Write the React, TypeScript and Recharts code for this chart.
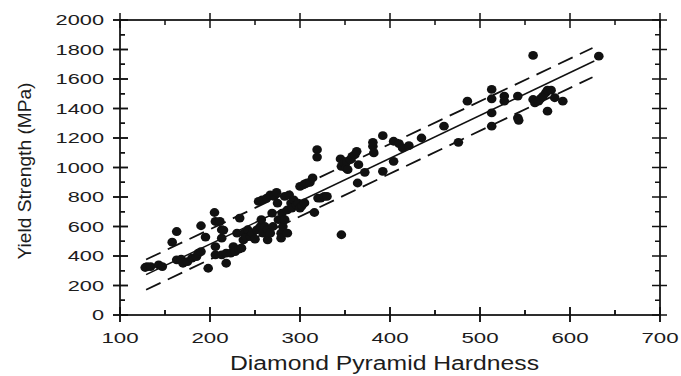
import React from 'react';
import { ScatterChart, Scatter, XAxis, YAxis } from 'recharts';

const hardness = [
  130, 128, 134, 143, 147, 158, 163, 163, 168, 170, 175, 180, 185, 187, 190, 190, 195, 198,
  205, 206, 206, 206, 211, 213, 213, 213, 215, 218, 218, 223, 226, 228, 233, 230, 232, 235,
  237, 238, 240, 242, 245, 247, 250, 252, 254, 256, 257, 258, 259, 261, 263, 264, 264, 267,
  267, 269, 270, 271, 274, 275, 276, 279, 279, 280, 281, 283, 283, 286, 286, 288, 290, 291,
  293, 296, 298, 300, 300, 302, 304, 305, 306, 308, 311, 314, 316, 319, 319, 320, 323, 327,
  330, 346, 345, 346, 349, 351, 352, 353, 356, 358, 361, 363, 365, 364, 372, 381, 381, 382,
  392, 392, 404, 404, 410, 414, 421, 435, 460, 476, 486, 513, 513, 513, 513, 527, 527, 542,
  542, 543, 559, 559, 561, 565, 567, 570, 573, 575, 579, 575, 583, 592, 632,
];
const yieldStrength = [
  328, 322, 328, 340, 328, 494, 566, 374, 378, 351, 362, 385, 396, 419, 605, 430, 528, 317,
  695, 634, 464, 408, 634, 578, 521, 408, 576, 351, 419, 419, 464, 430, 657, 555, 446, 453,
  510, 555, 528, 578, 532, 555, 514, 578, 770, 600, 646, 781, 555, 600, 793, 578, 510, 555,
  815, 691, 600, 804, 831, 759, 646, 555, 521, 691, 600, 804, 646, 555, 713, 815, 759, 725,
  781, 747, 759, 725, 872, 740, 883, 760, 890, 895, 899, 929, 695, 1121, 1071, 793, 793, 804,
  804, 544, 1058, 1008, 1031, 997, 1042, 985, 1053, 1076, 1087, 1110, 1019, 895, 967, 1144, 1171, 1099,
  1216, 974, 1178, 1042, 1162, 1133, 1148, 1200, 1280, 1171, 1450, 1529, 1466, 1370, 1280, 1484, 1450, 1484,
  1336, 1320, 1760, 1461, 1438, 1450, 1466, 1484, 1506, 1524, 1524, 1382, 1473, 1450, 1755,
];

const fitX = [129, 627];
const fitY = [274, 1722];
const bandX = [129, 625];
const upperY = [376, 1810];
const lowerY = [171, 1612];

const xDomain = [100, 700];
const yDomain = [0, 2000];
const xTicks = [100, 150, 200, 250, 300, 350, 400, 450, 500, 550, 600, 650, 700];
const yTicks = [0, 100, 200, 300, 400, 500, 600, 700, 800, 900, 1000, 1100, 1200, 1300, 1400, 1500, 1600, 1700, 1800, 1900, 2000];
const xLabels = [100, 200, 300, 400, 500, 600, 700];
const yLabels = [0, 200, 400, 600, 800, 1000, 1200, 1400, 1600, 1800, 2000];

const xTitle = 'Diamond Pyramid Hardness';
const yTitle = 'Yield Strength (MPa)';

const points = hardness.map((h, i) => ({ x: h, y: yieldStrength[i] }));
const fitData = fitX.map((x, i) => ({ x, y: fitY[i] }));
const upperData = bandX.map((x, i) => ({ x, y: upperY[i] }));
const lowerData = bandX.map((x, i) => ({ x, y: lowerY[i] }));
const frameData = [
  { x: xDomain[0], y: yDomain[0] }, { x: xDomain[1], y: yDomain[0] }, { x: xDomain[1], y: yDomain[1] },
  { x: xDomain[0], y: yDomain[1] }, { x: xDomain[0], y: yDomain[0] },
];
const tickMarks = [
  ...xTicks.map((v) => ({ x: v, y: yDomain[0], side: 'b', major: xLabels.includes(v) })),
  ...xTicks.map((v) => ({ x: v, y: yDomain[1], side: 't', major: xLabels.includes(v) })),
  ...yTicks.map((v) => ({ x: xDomain[0], y: v, side: 'l', major: yLabels.includes(v) })),
  ...yTicks.map((v) => ({ x: xDomain[1], y: v, side: 'r', major: yLabels.includes(v) })),
];

const INK = '#111111';
const TEXT = '#1c1c1c';
const FONT = 'Liberation Sans, Arial, Helvetica, sans-serif';

const renderBottom = (props: any) => {
  const x = Number(props.x);
  const y = Number(props.y);
  const v = props.payload.value;
  const major = xLabels.includes(v);
  const s = String(v);
  return (
    <g>
      <line x1={x} x2={x} y1={major ? y - 8 : y - 5} y2={major ? y + 7 : y} stroke={INK} strokeWidth={1.5} />
      {major && (
        <text x={x} y={y + 28} textAnchor="middle" fontFamily={FONT} fontSize={15.5} fill={TEXT}
          textLength={s.length * 12.4} lengthAdjust="spacingAndGlyphs">{s}</text>
      )}
    </g>
  );
};

const renderLeft = (props: any) => {
  const x = Number(props.x);
  const y = Number(props.y);
  const v = props.payload.value;
  const major = yLabels.includes(v);
  const s = String(v);
  return (
    <g>
      <line x1={major ? x - 7 : x} x2={major ? x + 8 : x + 5} y1={y} y2={y} stroke={INK} strokeWidth={1.5} />
      {major && (
        <text x={x - 16} y={y + 5} textAnchor="end" fontFamily={FONT} fontSize={14} fill={TEXT}
          textLength={s.length * 12.1} lengthAdjust="spacingAndGlyphs">{s}</text>
      )}
    </g>
  );
};

const renderTickMark = (p: any) => {
  const d = p.payload || p;
  const cx = Number(p.cx);
  const cy = Number(p.cy);
  const major = !!d.major;
  let x1 = cx, x2 = cx, y1 = cy, y2 = cy;
  if (d.side === 'b') { y1 = major ? cy - 8 : cy - 5; y2 = major ? cy + 7 : cy; }
  else if (d.side === 't') { y1 = major ? cy - 7 : cy; y2 = major ? cy + 8 : cy + 5; }
  else if (d.side === 'l') { x1 = major ? cx - 7 : cx; x2 = major ? cx + 8 : cx + 5; }
  else { x1 = major ? cx - 8 : cx - 5; x2 = major ? cx + 7 : cx; }
  return <line x1={x1} x2={x2} y1={y1} y2={y2} stroke={INK} strokeWidth={1.5} />;
};

const renderDot = (p: any) => <ellipse cx={p.cx} cy={p.cy} rx={4.8} ry={4.4} fill={INK} />;
const renderNone = () => <g />;

export default function App() {
  return (
    <div style={{ position: 'absolute', left: 0, top: 0, width: 681, height: 376, background: '#fff' }}>
      <ScatterChart width={681} height={376} margin={{ top: 10, right: 11, bottom: 21, left: 20 }}>
        <XAxis type="number" dataKey="x" domain={xDomain} ticks={xTicks} interval={0}
          height={40} tickSize={0} tickMargin={0} tick={renderBottom} stroke={INK} />
        <XAxis xAxisId="top" orientation="top" type="number" domain={xDomain} ticks={xTicks} interval={0}
          height={10} tickSize={0} tickMargin={0} tick={false} stroke={INK} />
        <YAxis type="number" dataKey="y" domain={yDomain} ticks={yTicks} interval={0}
          width={100} tickSize={0} tickMargin={0} tick={renderLeft} stroke={INK} />
        <YAxis yAxisId="right" orientation="right" type="number" domain={yDomain} ticks={yTicks} interval={0}
          width={10} tickSize={0} tickMargin={0} tick={false} stroke={INK} />
        <Scatter data={frameData} line={{ stroke: INK, strokeWidth: 1.5 }} shape={renderNone} isAnimationActive={false} />
        <Scatter data={tickMarks} shape={renderTickMark} isAnimationActive={false} />
        <Scatter data={upperData} line={{ stroke: INK, strokeWidth: 1.8, strokeDasharray: '16 8' }}
          shape={renderNone} isAnimationActive={false} />
        <Scatter data={lowerData} line={{ stroke: INK, strokeWidth: 1.8, strokeDasharray: '16 8' }}
          shape={renderNone} isAnimationActive={false} />
        <Scatter data={fitData} line={{ stroke: INK, strokeWidth: 1.5 }}
          shape={renderNone} isAnimationActive={false} />
        <Scatter data={points} shape={renderDot} isAnimationActive={false} />
        <text x={384.5} y={369.5} textAnchor="middle" fontFamily={FONT} fontSize={19.5} fill={TEXT}
          textLength={309} lengthAdjust="spacingAndGlyphs">{xTitle}</text>
        <text x={31} y={171} transform="rotate(-90 31 171)" textAnchor="middle" fontFamily={FONT} fontSize={18}
          fill={TEXT} textLength={177} lengthAdjust="spacingAndGlyphs">{yTitle}</text>
      </ScatterChart>
    </div>
  );
}
